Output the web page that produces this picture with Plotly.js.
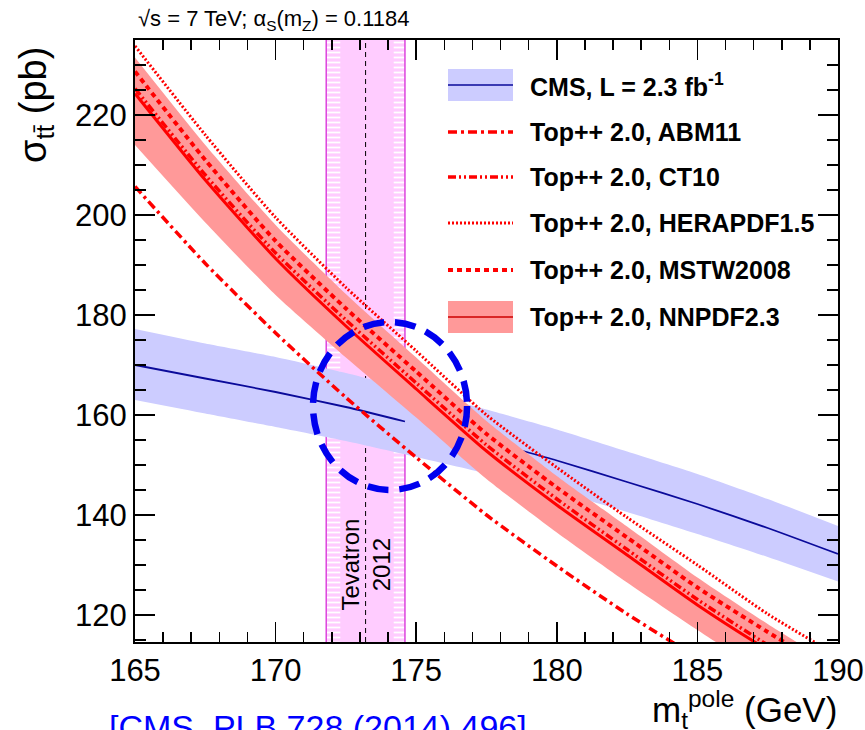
<!DOCTYPE html>
<html><head><meta charset="utf-8">
<script src="https://cdn.plot.ly/plotly-3.0.1.min.js"></script>
<style>html,body{margin:0;padding:0;background:#fff}#chart{width:865px;height:730px}</style>
</head><body><div id="chart"></div>
<script>
// ---- data ----
const mass = [165, 167.5, 170, 172.5, 175, 177.5, 180, 182.5, 185, 187.5, 190];
const cmsLow  = [163.0, 160.3, 157.6, 154.8, 151.6, 148.3, 144.7, 140.6, 136.2, 131.6, 126.7];
const cmsHigh = [177.2, 174.3, 171.6, 168.4, 164.8, 161.1, 157.1, 152.7, 148.2, 143.2, 137.8];
const cmsLineMass  = [165, 167.5, 170, 172.5, 174.6, null, 178.8, 180, 182.5, 185, 187.5, 190];
const cmsLineXsec  = [170.0, 167.3, 164.6, 161.6, 158.7, null, 152.8, 150.9, 146.6, 142.2, 137.4, 132.2];
const nnpdfLow     = [214.0, 198.5, 184.0, 171.5, 159.5, 147.2, 136.5, 126.5, 117.0, 108.0, 100.0];
const nnpdfHigh    = [231.5, 214.0, 198.0, 184.2, 171.5, 158.8, 147.8, 137.7, 127.5, 118.2, 109.5];
const nnpdfCentral = [224.3, 207.0, 191.3, 177.8, 165.2, 152.8, 142.0, 132.0, 122.0, 113.0, 104.8];
const ct10         = [225.3, 208.0, 192.4, 179.0, 166.4, 154.0, 143.2, 133.1, 123.1, 114.0, 105.7];
const abm11        = [205.7, 190.3, 176.4, 163.5, 151.5, 140.0, 129.8, 120.2, 111.5, 103.5, 96.0];
const herapdf      = [233.8, 216.0, 199.5, 185.5, 172.8, 160.0, 149.5, 139.5, 130.0, 120.2, 111.8];
const mstw         = [228.7, 211.0, 194.8, 181.3, 168.7, 156.2, 145.5, 135.5, 125.5, 116.6, 108.2];
const tevatronCentral = 173.2;
const tevatronInner = [172.3, 174.2];
const tevatronOuter = [171.8, 174.6];
const xRange = [165, 190];
const yRange = [114.6, 235];
const xTicks = [165, 170, 175, 180, 185, 190];
const yTicks = [120, 140, 160, 180, 200, 220];
const ellipseMass = [171.33, 176.81];
const ellipseXsec = [145.0, 178.6];
const legendLabels = ['CMS, L = 2.3 fb<sup>-1</sup>', 'Top++ 2.0, ABM11', 'Top++ 2.0, CT10',
  'Top++ 2.0, HERAPDF1.5', 'Top++ 2.0, MSTW2008', 'Top++ 2.0, NNPDF2.3'];

// ---- styling ----
const FONT = '"Liberation Sans", Arial, sans-serif';
const RED = '#ff0000';
const BLUEBAND = '#ccccff', REDBAND = '#ff9999';
const dashABM = '9px,4px,3px,4px';
const dashCT = '8px,3px,2px,3px,2px,3px';
const dashHERA = '2px,2px';
const dashMSTW = '5px,4px';
const sm = {shape: 'spline', smoothing: 0.6};

const yl = yRange[0], yh = yRange[1];
const traces = [
  {x: [tevatronOuter[0], tevatronOuter[1], tevatronOuter[1], tevatronOuter[0], tevatronOuter[0]],
   y: [yl, yl, yh, yh, yl], mode: 'lines', fill: 'toself', fillcolor: '#ffd6ff',
   fillpattern: {shape: '-', fgcolor: '#ffffff', bgcolor: '#ffccff', size: 5, solidity: 0.35},
   line: {width: 0}},
  {x: [tevatronInner[0], tevatronInner[1], tevatronInner[1], tevatronInner[0], tevatronInner[0]],
   y: [yl, yl, yh, yh, yl], mode: 'lines', fill: 'toself', fillcolor: '#ffccff',
   line: {width: 0}},
  {x: [tevatronOuter[0], tevatronOuter[0], null, tevatronOuter[1], tevatronOuter[1]],
   y: [yl, yh, null, yl, yh], mode: 'lines', line: {color: '#dd44dd', width: 1.5}},
  {x: [tevatronCentral, tevatronCentral], y: [yl, yh], mode: 'lines',
   line: {color: '#000', width: 1, dash: '5px,4px'}},
  {x: mass, y: cmsLow, mode: 'lines', line: Object.assign({width: 0}, sm)},
  {x: mass, y: cmsHigh, mode: 'lines', fill: 'tonexty', fillcolor: BLUEBAND, line: Object.assign({width: 0}, sm)},
  {x: cmsLineMass, y: cmsLineXsec, mode: 'lines', line: Object.assign({color: '#0a0a9a', width: 1.8}, sm)},
  {x: mass, y: nnpdfLow, mode: 'lines', line: Object.assign({width: 0}, sm)},
  {x: mass, y: nnpdfHigh, mode: 'lines', fill: 'tonexty', fillcolor: REDBAND, line: Object.assign({width: 0}, sm)},
  {x: mass, y: abm11, mode: 'lines', line: Object.assign({color: RED, width: 3.5, dash: dashABM}, sm)},
  {x: mass, y: herapdf, mode: 'lines', line: Object.assign({color: RED, width: 3, dash: dashHERA}, sm)},
  {x: mass, y: mstw, mode: 'lines', line: Object.assign({color: RED, width: 4, dash: dashMSTW}, sm)},
  {x: mass, y: ct10, mode: 'lines', line: Object.assign({color: RED, width: 3.5, dash: dashCT}, sm)},
  {x: mass, y: nnpdfCentral, mode: 'lines', line: Object.assign({color: RED, width: 3}, sm)}
];
traces.forEach(t => { t.showlegend = false; t.hoverinfo = 'skip'; });

// ---- manual legend (paper coordinates) ----
const L = 135, R = 838, T = 40, B = 642;
const px = v => (v - L) / (R - L);
const py = v => (B - v) / (B - T);
const rowY = [85, 132, 177, 223, 270, 317];
const symX0 = 448, symX1 = 513, textX = 528;
const shapes = [];
const annotations = [];
function bandKey(y, fill, lineColor) {
  shapes.push({type: 'rect', xref: 'paper', yref: 'paper', x0: px(symX0), x1: px(symX1),
    y0: py(y + 16), y1: py(y - 16), fillcolor: fill, line: {width: 0}, layer: 'above'});
  shapes.push({type: 'line', xref: 'paper', yref: 'paper', x0: px(symX0), x1: px(symX1),
    y0: py(y), y1: py(y), line: {color: lineColor, width: 1.5}, layer: 'above'});
}
function lineKey(y, dash, width) {
  shapes.push({type: 'line', xref: 'paper', yref: 'paper', x0: px(symX0), x1: px(symX1),
    y0: py(y), y1: py(y), line: {color: RED, width: width, dash: dash}, layer: 'above'});
}
bandKey(rowY[0], BLUEBAND, '#0a0a9a');
lineKey(rowY[1], dashABM, 3.5);
lineKey(rowY[2], dashCT, 3.5);
lineKey(rowY[3], dashHERA, 3);
lineKey(rowY[4], dashMSTW, 4);
bandKey(rowY[5], REDBAND, '#cc0000');
legendLabels.forEach((lab, i) => annotations.push({
  xref: 'paper', yref: 'paper', x: px(textX), y: py(rowY[i]), xanchor: 'left', yanchor: 'middle',
  text: '<b>' + lab + '</b>', showarrow: false, font: {family: FONT, size: 25, color: '#000'}
}));

shapes.push({type: 'circle', xref: 'x', yref: 'y', x0: ellipseMass[0], x1: ellipseMass[1],
  y0: ellipseXsec[0], y1: ellipseXsec[1], line: {color: '#0000ee', width: 6.5, dash: '21px,11px'}, layer: 'above'});

annotations.push({xref: 'paper', yref: 'paper', x: px(136), y: py(20), xanchor: 'left', yanchor: 'middle',
  text: '√s = 7 TeV; α<sub>S</sub>(m<sub>Z</sub>) = 0.1184', showarrow: false,
  font: {family: FONT, size: 22, color: '#000'}});
annotations.push({xref: 'paper', yref: 'paper', x: px(36), y: py(105), xanchor: 'center', yanchor: 'middle',
  textangle: -90, text: 'σ<sub>tt̄</sub> (pb)', showarrow: false,
  font: {family: FONT, size: 38, color: '#000'}});
annotations.push({xref: 'paper', yref: 'paper', x: px(839), y: py(709), xanchor: 'right', yanchor: 'middle',
  text: 'm<sub>t</sub><sup>pole</sup> (GeV)', showarrow: false,
  font: {family: FONT, size: 35, color: '#000'}});
annotations.push({xref: 'x', yref: 'y', x: tevatronCentral, y: 130.0, xanchor: 'center', yanchor: 'middle',
  textangle: -90, text: 'Tevatron<br>2012', showarrow: false,
  font: {family: FONT, size: 24, color: '#000'}});
annotations.push({xref: 'paper', yref: 'paper', x: px(107), y: py(706), xanchor: 'left', yanchor: 'top',
  text: '[CMS, PLB 728 (2014) 496]', showarrow: false,
  font: {family: FONT, size: 34, color: '#0000ff'}});

const axisCommon = {
  showgrid: false, zeroline: false, showline: true, linecolor: '#000', linewidth: 2,
  mirror: 'allticks', ticks: 'inside', tickcolor: '#000', tickwidth: 1.5, ticklen: 20,
  tickfont: {family: FONT, size: 31, color: '#000'}, tickmode: 'array',
  ticklabeloverflow: 'allow'
};
const layout = {
  width: 865, height: 730,
  margin: {l: L, r: 865 - R, t: T, b: 730 - B},
  paper_bgcolor: '#fff', plot_bgcolor: '#fff', showlegend: false,
  xaxis: Object.assign({}, axisCommon, {range: xRange, tickvals: xTicks, ticktext: xTicks.map(String),
    minor: {tickmode: 'linear', tick0: 165, dtick: 1, ticks: 'inside', ticklen: 10, tickwidth: 1.5, tickcolor: '#000'}}),
  yaxis: Object.assign({}, axisCommon, {range: yRange, tickvals: yTicks, ticktext: yTicks.map(String),
    minor: {tickmode: 'linear', tick0: 120, dtick: 5, ticks: 'inside', ticklen: 11, tickwidth: 1.5, tickcolor: '#000'}}),
  shapes: shapes, annotations: annotations
};
Plotly.newPlot('chart', traces, layout, {staticPlot: true, displayModeBar: false});
</script></body></html>
